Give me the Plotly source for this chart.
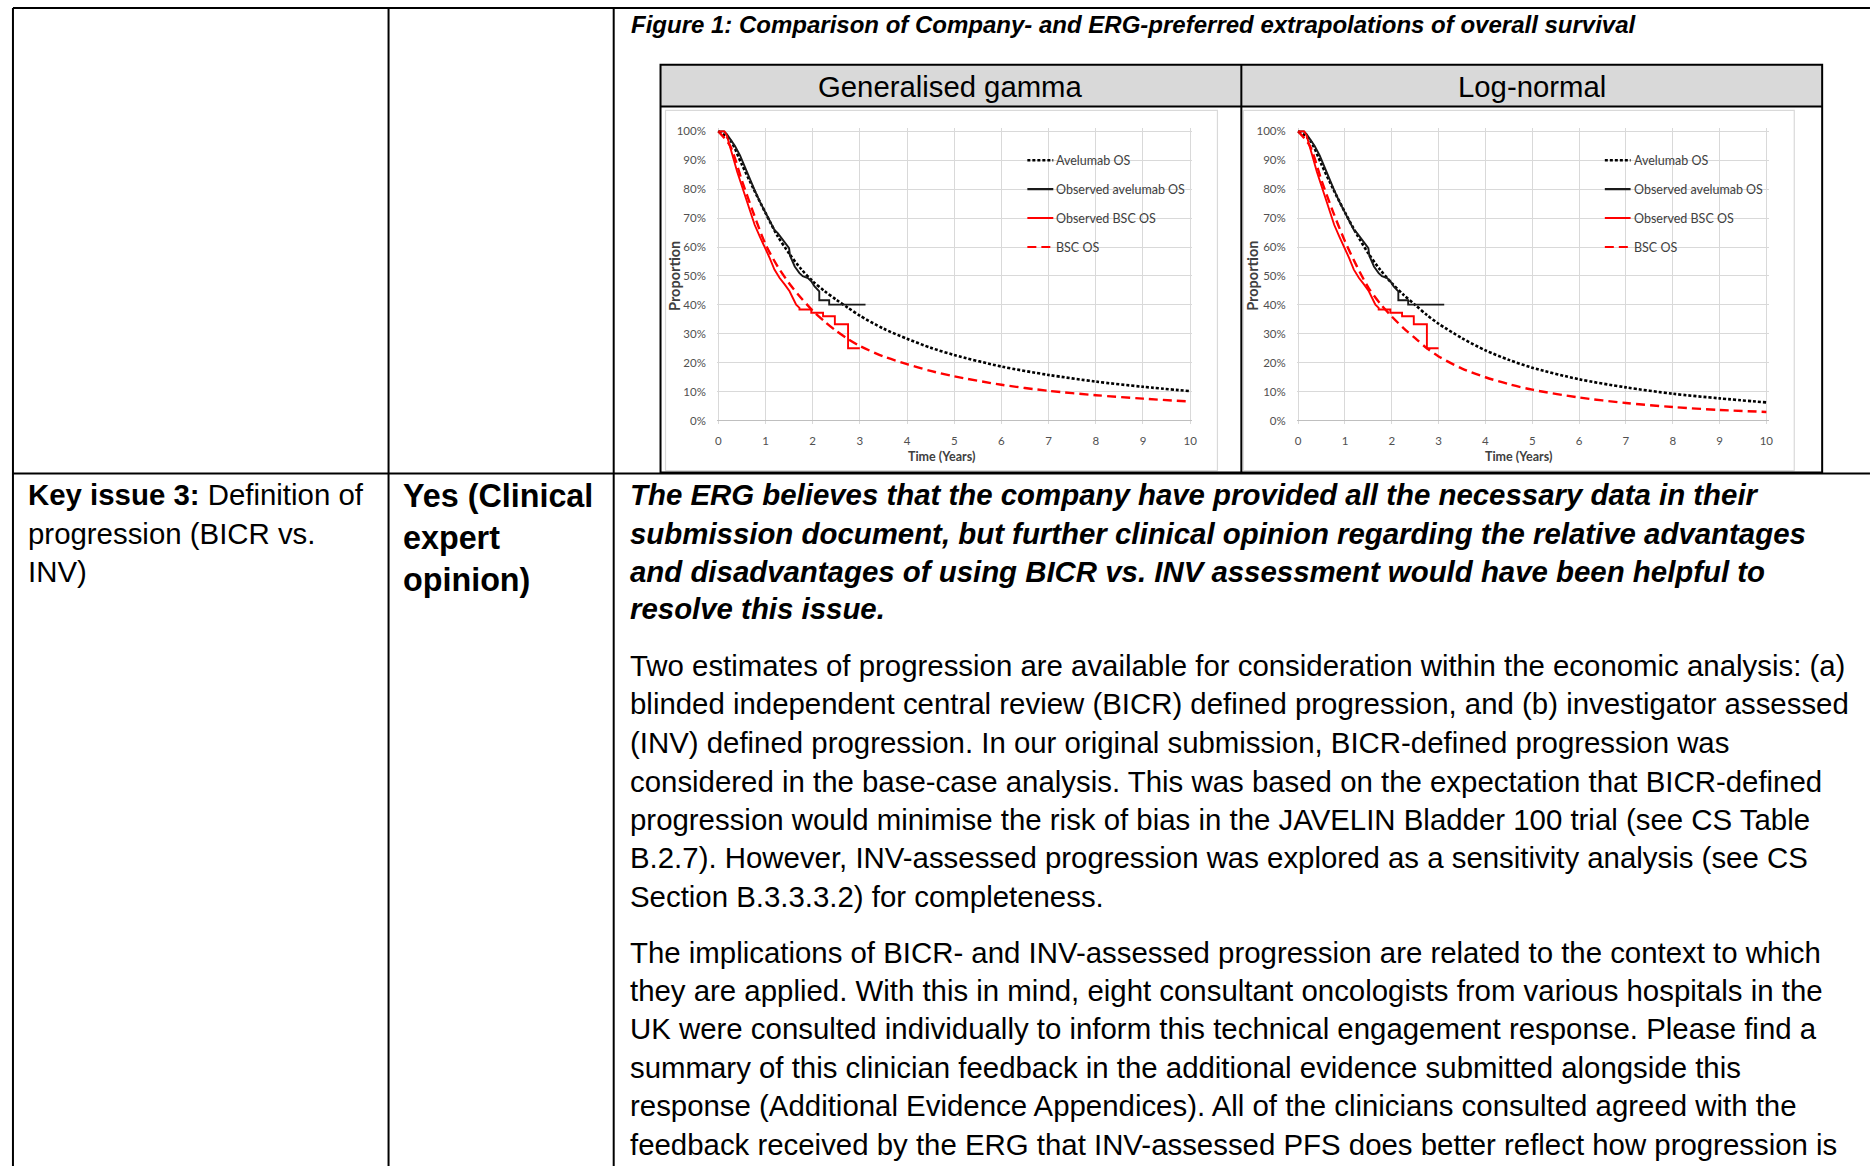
import plotly.graph_objects as go

# ---------------- data ----------------
fit_t = [0, 0.25, 0.5, 0.75, 1, 1.25, 1.5, 1.75, 2, 2.25, 2.5, 2.75, 3, 3.5, 4, 4.5, 5, 6, 7, 8, 9, 10]

gg_avelumab = [1.0, 0.97, 0.885, 0.80, 0.718, 0.64, 0.578, 0.525, 0.482, 0.448, 0.418, 0.39, 0.363,
               0.318, 0.283, 0.252, 0.227, 0.187, 0.158, 0.135, 0.117, 0.102]
gg_bsc = [1.0, 0.95, 0.83, 0.715, 0.61, 0.535, 0.475, 0.425, 0.38, 0.343, 0.31, 0.282, 0.258,
          0.222, 0.195, 0.172, 0.153, 0.124, 0.103, 0.088, 0.076, 0.066]

ln_avelumab = [1.0, 0.97, 0.885, 0.80, 0.72, 0.645, 0.578, 0.522, 0.475, 0.435, 0.40, 0.365, 0.335,
               0.285, 0.243, 0.21, 0.183, 0.143, 0.115, 0.093, 0.077, 0.063]
ln_bsc = [1.0, 0.95, 0.83, 0.72, 0.62, 0.535, 0.46, 0.405, 0.36, 0.32, 0.285, 0.25, 0.222,
          0.18, 0.15, 0.126, 0.107, 0.08, 0.061, 0.047, 0.037, 0.03]

obs_av_t = [0, 0.12, 0.18, 0.25, 0.35, 0.46, 0.56, 0.67, 0.77, 0.88, 1.0, 1.12, 1.19, 1.26, 1.36, 1.43,
            1.5, 1.52, 1.62, 1.72, 1.79, 1.9, 1.97, 2.04, 2.14, 2.14, 2.35, 2.35, 3.12]
obs_av_s = [1.0, 1.0, 0.99, 0.975, 0.95, 0.917, 0.877, 0.837, 0.797, 0.757, 0.717, 0.677, 0.659, 0.648,
            0.625, 0.608, 0.596, 0.57, 0.533, 0.51, 0.499, 0.493, 0.482, 0.464, 0.447, 0.416, 0.416,
            0.401, 0.401]

obs_bsc_t = [0, 0.13, 0.18, 0.25, 0.32, 0.4, 0.49, 0.58, 0.67, 0.77, 0.88, 1.0, 1.09, 1.19, 1.3, 1.41,
             1.51, 1.58, 1.65, 1.72, 1.72, 1.97, 1.97, 2.22, 2.22, 2.47, 2.47, 2.75, 2.75, 3.0]
obs_bsc_s = [1.0, 1.0, 0.986, 0.95, 0.906, 0.86, 0.814, 0.768, 0.722, 0.677, 0.636, 0.596, 0.562, 0.522,
             0.493, 0.47, 0.447, 0.424, 0.401, 0.39, 0.384, 0.384, 0.373, 0.373, 0.361, 0.361, 0.333,
             0.333, 0.25, 0.25]

y_ticks = [0, 0.1, 0.2, 0.3, 0.4, 0.5, 0.6, 0.7, 0.8, 0.9, 1.0]
y_ticktext = ["0%", "10%", "20%", "30%", "40%", "50%", "60%", "70%", "80%", "90%", "100%"]
x_ticks = [0, 1, 2, 3, 4, 5, 6, 7, 8, 9, 10]

panel_titles = ["Generalised gamma", "Log-normal"]
legend_names = ["Avelumab OS", "Observed avelumab OS", "Observed BSC OS", "BSC OS"]
legend_levels = [0.9, 0.8, 0.7, 0.6]

caption = "Figure 1: Comparison of Company- and ERG-preferred extrapolations of overall survival"
col1_lines = ["<b>Key issue 3:</b> Definition of", "progression (BICR vs.", "INV)"]
col2_lines = ["Yes (Clinical", "expert", "opinion)"]
erg_lines = [
    "The ERG believes that the company have provided all the necessary data in their",
    "submission document, but further clinical opinion regarding the relative advantages",
    "and disadvantages of using BICR vs. INV assessment would have been helpful to",
    "resolve this issue.",
]
para1_lines = [
    "Two estimates of progression are available for consideration within the economic analysis: (a)",
    "blinded independent central review (BICR) defined progression, and (b) investigator assessed",
    "(INV) defined progression. In our original submission, BICR-defined progression was",
    "considered in the base-case analysis. This was based on the expectation that BICR-defined",
    "progression would minimise the risk of bias in the JAVELIN Bladder 100 trial (see CS Table",
    "B.2.7). However, INV-assessed progression was explored as a sensitivity analysis (see CS",
    "Section B.3.3.3.2) for completeness.",
]
para2_lines = [
    "The implications of BICR- and INV-assessed progression are related to the context to which",
    "they are applied. With this in mind, eight consultant oncologists from various hospitals in the",
    "UK were consulted individually to inform this technical engagement response. Please find a",
    "summary of this clinician feedback in the additional evidence submitted alongside this",
    "response (Additional Evidence Appendices). All of the clinicians consulted agreed with the",
    "feedback received by the ERG that INV-assessed PFS does better reflect how progression is",
]

# ---------------- layout geometry (pixels) ----------------
W, H = 1870, 1166


def px(x):
    return x / W


def py(y):
    return 1 - y / H


DOC_FONT = "Liberation Sans, Arial, sans-serif"
CHART_FONT = "Lato, Carlito, Calibri, sans-serif"
RED = "#ff0000"
BLACK = "#000000"
DOT = "3px,2px"
DASH = "9px,5px"

panels = [
    dict(x0=719.0, x10=1192.6, frame=(666, 108, 1220, 470)),
    dict(x0=1301.0, x10=1771.0, frame=(1246, 108, 1799, 470)),
]
Y100, Y0 = 129.0, 419.8
XR = [-0.03, 10.05]
YR = [-0.01, 1.012]

fig = go.Figure()

series_sets = [(gg_avelumab, gg_bsc), (ln_avelumab, ln_bsc)]
annotations = []
shapes = []

for i, (p, (fav, fbsc)) in enumerate(zip(panels, series_sets)):
    xa = "x" if i == 0 else "x2"
    ya = "y" if i == 0 else "y2"
    perx = (p["x10"] - p["x0"]) / 10
    pery = (Y0 - Y100)
    xdom = [px(p["x0"] + XR[0] * perx), px(p["x0"] + XR[1] * perx)]
    ydom = [py(Y0 - YR[0] * pery), py(Y0 - YR[1] * pery)]
    axis_common_x = dict(domain=xdom, range=XR, tickvals=x_ticks, showgrid=True, gridcolor="#d9d9d9",
                         gridwidth=1, zeroline=False, showline=False, ticks="",
                         tickfont=dict(family=CHART_FONT, size=11.5, color="#505050"),
                         ticklabelstandoff=9, fixedrange=True)
    axis_common_y = dict(domain=ydom, range=YR, tickvals=y_ticks, ticktext=y_ticktext, showgrid=True,
                         gridcolor="#d9d9d9", gridwidth=1, zeroline=True, zerolinecolor="#bfbfbf",
                         zerolinewidth=1, showline=False, ticks="",
                         tickfont=dict(family=CHART_FONT, size=11.5, color="#505050"),
                         ticklabelstandoff=10, fixedrange=True)
    if i == 0:
        fig.update_layout(xaxis=dict(anchor="y", **axis_common_x), yaxis=dict(anchor="x", **axis_common_y))
    else:
        fig.update_layout(xaxis2=dict(anchor="y2", **axis_common_x), yaxis2=dict(anchor="x2", **axis_common_y))

    fig.add_trace(go.Scatter(x=fit_t, y=fav, mode="lines", name=legend_names[0], xaxis=xa, yaxis=ya,
                             line=dict(color=BLACK, width=2.6, dash=DOT, shape="spline", smoothing=0.8),
                             showlegend=False))
    fig.add_trace(go.Scatter(x=fit_t, y=fbsc, mode="lines", name=legend_names[3], xaxis=xa, yaxis=ya,
                             line=dict(color=RED, width=2.4, dash=DASH, shape="spline", smoothing=0.8),
                             showlegend=False))
    fig.add_trace(go.Scatter(x=obs_av_t, y=obs_av_s, mode="lines", name=legend_names[1], xaxis=xa, yaxis=ya,
                             line=dict(color="#1a1a1a", width=1.9), showlegend=False))
    fig.add_trace(go.Scatter(x=obs_bsc_t, y=obs_bsc_s, mode="lines", name=legend_names[2], xaxis=xa, yaxis=ya,
                             line=dict(color=RED, width=1.9), showlegend=False))

    # manual legend in data coordinates
    styles = [(BLACK, DOT, 2.4), ("#1a1a1a", "solid", 2.2), (RED, "solid", 2.0), (RED, DASH, 2.0)]
    for name, lev, (col, dsh, wd) in zip(legend_names, legend_levels, styles):
        shapes.append(dict(type="line", xref=xa, yref=ya, x0=6.55, x1=7.1, y0=lev, y1=lev,
                           line=dict(color=col, width=wd, dash=dsh)))
        annotations.append(dict(xref=xa, yref=ya, x=7.12, y=lev, text=name, showarrow=False,
                                xanchor="left", yanchor="middle",
                                font=dict(family=CHART_FONT, size=12.5, color="#404040")))

    # axis titles
    fx0, fy0, fx1, fy1 = p["frame"]
    annotations.append(dict(xref="paper", yref="paper", x=px((fx0 + fx1) / 2), y=py(455.5),
                            text="<b>Time (Years)</b>", showarrow=False, xanchor="center", yanchor="middle",
                            font=dict(family=CHART_FONT, size=12.5, color="#404040")))
    annotations.append(dict(xref="paper", yref="paper", x=px(fx0 + 9.5), y=py((Y0 + Y100) / 2),
                            text="<b>Proportion</b>", showarrow=False, textangle=-90,
                            xanchor="center", yanchor="middle",
                            font=dict(family=CHART_FONT, size=14.5, color="#404040")))
    # chart image frame
    shapes.append(dict(type="rect", xref="paper", yref="paper", x0=px(fx0), x1=px(fx1), y0=py(fy1), y1=py(fy0),
                       line=dict(color="#d9d9d9", width=1.2), layer="below"))

# ---------------- embedded two-panel box ----------------
BX0, BX1, BY0, BHEAD, BY1, BMID = 661, 1827, 62, 104, 472, 1244
shapes.append(dict(type="rect", xref="paper", yref="paper", x0=px(BX0), x1=px(BX1), y0=py(BHEAD), y1=py(BY0),
                   fillcolor="#d9d9d9", line=dict(width=0), layer="below"))
shapes.append(dict(type="rect", xref="paper", yref="paper", x0=px(BX0), x1=px(BX1), y0=py(BY1), y1=py(BY0),
                   line=dict(color=BLACK, width=2)))
shapes.append(dict(type="line", xref="paper", yref="paper", x0=px(BX0), x1=px(BX1), y0=py(BHEAD), y1=py(BHEAD),
                   line=dict(color=BLACK, width=2)))
shapes.append(dict(type="line", xref="paper", yref="paper", x0=px(BMID), x1=px(BMID), y0=py(BY1), y1=py(BY0),
                   line=dict(color=BLACK, width=2)))
for t, cx in zip(panel_titles, [(BX0 + BMID) / 2, (BMID + BX1) / 2]):
    annotations.append(dict(xref="paper", yref="paper", x=px(cx), y=py(83.5), text=t, showarrow=False,
                            xanchor="center", yanchor="middle",
                            font=dict(family=DOC_FONT, size=29.3, color=BLACK)))

# ---------------- document table ----------------
TL, TT, C1, C2, ROW = 11, 5, 388, 614, 473
for (x0, y0, x1, y1) in [(TL, TT, W + 5, TT), (TL, TT, TL, H + 5), (C1, TT, C1, H + 5), (C2, TT, C2, H + 5),
                         (TL, ROW, W + 5, ROW)]:
    shapes.append(dict(type="line", xref="paper", yref="paper", x0=px(x0), x1=px(x1), y0=py(y0), y1=py(y1),
                       line=dict(color=BLACK, width=2)))


def add_text(x, y, text, size, bold=False, italic=False):
    t = text
    if italic:
        t = "<i>" + t + "</i>"
    if bold:
        t = "<b>" + t + "</b>"
    annotations.append(dict(xref="paper", yref="paper", x=px(x), y=py(y), text=t, showarrow=False,
                            xanchor="left", yanchor="middle", borderpad=0,
                            font=dict(family=DOC_FONT, size=size, color=BLACK)))


add_text(630, 21.5, caption, 24, bold=True, italic=True)
for ln, yy in zip(col1_lines, [494, 533, 571]):
    add_text(25, yy, ln, 29.4)
for ln, yy in zip(col2_lines, [496, 538, 580]):
    add_text(402, yy, ln, 32.3, bold=True)
for ln, yy in zip(erg_lines, [494, 533, 571, 609]):
    add_text(629, yy, ln, 29.4, bold=True, italic=True)
for ln, yy in zip(para1_lines, [665.5, 704.2, 743, 782.3, 820.5, 858.7, 898]):
    add_text(629, yy, ln, 29.4)
for ln, yy in zip(para2_lines, [954, 992.2, 1030.4, 1069.8, 1108, 1147.3]):
    add_text(629, yy, ln, 29.4)

fig.update_layout(
    width=W, height=H, margin=dict(l=0, r=0, t=0, b=0, pad=0),
    paper_bgcolor="white", plot_bgcolor="white",
    showlegend=False, annotations=annotations, shapes=shapes,
)

fig.write_html("out.html", config={"displayModeBar": False},
               post_script="document.body.style.margin='0';document.body.style.overflow='hidden';")
